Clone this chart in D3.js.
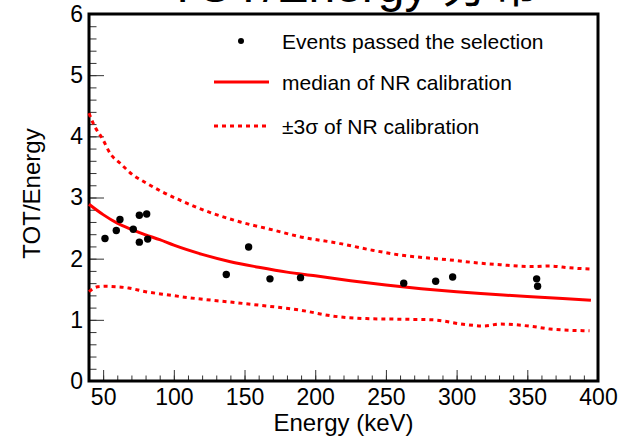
<!DOCTYPE html>
<html>
<head>
<meta charset="utf-8">
<script src="https://cdn.jsdelivr.net/npm/d3@7"></script>
<style>
  html, body { margin: 0; padding: 0; background: #fff; }
  svg { display: block; }
  text { font-family: "Liberation Sans", Arial, Helvetica, sans-serif; }
</style>
</head>
<body>
<svg id="chart" width="623" height="440"></svg>
<script>
// ---------- data ----------
const titleText = "TOT/Energy 分布";
const xTitle = "Energy (keV)";
const yTitle = "TOT/Energy";

const xMajorTicks = [50, 100, 150, 200, 250, 300, 350, 400];
const yMajorTicks = [0, 1, 2, 3, 4, 5, 6];

// events passing the selection
const pointsE = [51.3, 59.3, 61.9, 71.3, 75.6, 75.6, 80.8, 81.5, 137.1, 152.9, 168.0, 189.6, 262.6, 285.2, 297.2, 356.6, 357.3];
const pointsV = [2.33, 2.46, 2.64, 2.48, 2.27, 2.71, 2.73, 2.32, 1.74, 2.19, 1.67, 1.69, 1.60, 1.63, 1.70, 1.67, 1.55];

// median of NR calibration
const medianE = [40, 50, 60, 70, 80, 90, 100, 120, 140, 160, 180, 200, 225, 250, 275, 300, 325, 350, 375, 395];
const medianV = [2.89, 2.72, 2.58, 2.48, 2.39, 2.31, 2.22, 2.07, 1.95, 1.86, 1.78, 1.72, 1.64, 1.57, 1.51, 1.46, 1.42, 1.38, 1.35, 1.32];

// +3 sigma of NR calibration
const upperE = [40, 43, 50, 55, 62, 71, 81, 92, 104, 116, 130, 147, 170, 189, 217, 240, 260, 280, 295, 315, 331, 354, 366, 380, 394];
const upperV = [4.38, 4.21, 3.94, 3.72, 3.56, 3.37, 3.23, 3.09, 2.96, 2.84, 2.72, 2.60, 2.47, 2.36, 2.25, 2.14, 2.06, 2.01, 1.98, 1.93, 1.90, 1.87, 1.88, 1.85, 1.83];

// -3 sigma of NR calibration
const lowerE = [40, 46, 52, 60, 68, 80, 92, 115, 140, 160, 189, 213, 236, 260, 283, 307, 319, 331, 354, 366, 394];
const lowerV = [1.46, 1.54, 1.55, 1.54, 1.52, 1.46, 1.42, 1.35, 1.29, 1.24, 1.16, 1.06, 1.02, 1.01, 1.00, 0.92, 0.90, 0.93, 0.89, 0.85, 0.82];

const legendLabels = ["Events passed the selection", "median of NR calibration", "±3σ of NR calibration"];

// ---------- layout ----------
const svg = d3.select("#chart");
const L = 89, R = 598, T = 14, B = 381;
const x = d3.scaleLinear().domain([40, 400]).range([L, R]);
const y = d3.scaleLinear().domain([0, 6]).range([B, T]);

// title (mostly cut off at top)
svg.append("text")
  .attr("x", 168).attr("y", 2)
  .attr("font-size", 48)
  .style("font-family", "'Liberation Sans', 'Noto Sans CJK SC', sans-serif")
  .attr("fill", "#000")
  .text(titleText);

// minor ticks
const xMinor = d3.range(40, 401, 10);
const yMinor = d3.range(0, 6.001, 0.2).map(v => +v.toFixed(2));

svg.append("g").attr("transform", `translate(0,${B})`)
  .call(d3.axisBottom(x).tickValues(xMinor).tickSize(-5.5).tickFormat(""))
  .call(g => g.select(".domain").remove())
  .call(g => g.selectAll("line").attr("stroke", "#333"));

svg.append("g").attr("transform", `translate(${L},0)`)
  .call(d3.axisLeft(y).tickValues(yMinor).tickSize(-7.5).tickFormat(""))
  .call(g => g.select(".domain").remove())
  .call(g => g.selectAll("line").attr("stroke", "#333"));

// major ticks + labels
svg.append("g").attr("transform", `translate(0,${B})`)
  .call(d3.axisBottom(x).tickValues(xMajorTicks).tickSize(-11).tickPadding(8).tickFormat(d3.format("d")))
  .call(g => g.select(".domain").remove())
  .call(g => g.selectAll("line").attr("stroke", "#333"))
  .call(g => g.selectAll("text").attr("font-size", 23).attr("fill", "#000")
      .style("font-family", "'Liberation Sans', Arial, sans-serif"));

svg.append("g").attr("transform", `translate(${L},0)`)
  .call(d3.axisLeft(y).tickValues(yMajorTicks).tickSize(-15).tickPadding(6).tickFormat(d3.format("d")))
  .call(g => g.select(".domain").remove())
  .call(g => g.selectAll("line").attr("stroke", "#333"))
  .call(g => g.selectAll("text").attr("font-size", 23).attr("fill", "#000")
      .style("font-family", "'Liberation Sans', Arial, sans-serif"));

// frame
svg.append("rect")
  .attr("x", L).attr("y", T).attr("width", R - L).attr("height", B - T)
  .attr("fill", "none").attr("stroke", "#000").attr("stroke-width", 3);

// axis titles
svg.append("text")
  .attr("x", (L + R) / 2).attr("y", 431)
  .attr("text-anchor", "middle").attr("font-size", 24).attr("fill", "#000")
  .text(xTitle);

svg.append("text")
  .attr("transform", `translate(40,${(T + B) / 2 - 4}) rotate(-90)`)
  .attr("text-anchor", "middle").attr("font-size", 24).attr("fill", "#000")
  .text(yTitle);

// curves
const line = d3.line().x(d => x(d[0])).y(d => y(d[1])).curve(d3.curveMonotoneX);
const zip = (a, b) => a.map((v, i) => [v, b[i]]);

const plot = svg.append("g");
plot.append("path").datum(zip(upperE, upperV))
  .attr("d", line).attr("fill", "none").attr("stroke", "#ff0000")
  .attr("stroke-width", 3).attr("stroke-dasharray", "4,4");
plot.append("path").datum(zip(lowerE, lowerV))
  .attr("d", line).attr("fill", "none").attr("stroke", "#ff0000")
  .attr("stroke-width", 3).attr("stroke-dasharray", "4,4");
plot.append("path").datum(zip(medianE, medianV))
  .attr("d", line).attr("fill", "none").attr("stroke", "#ff0000")
  .attr("stroke-width", 3);

// points
plot.selectAll("circle.pt").data(zip(pointsE, pointsV)).join("circle")
  .attr("class", "pt")
  .attr("cx", d => x(d[0])).attr("cy", d => y(d[1])).attr("r", 3.7)
  .attr("fill", "#000");

// legend
const leg = svg.append("g");
const rowsY = [41, 82, 126];
leg.append("circle").attr("cx", 241).attr("cy", rowsY[0]).attr("r", 3).attr("fill", "#000");
leg.append("line").attr("x1", 214).attr("x2", 269).attr("y1", rowsY[1]).attr("y2", rowsY[1])
  .attr("stroke", "#ff0000").attr("stroke-width", 3);
leg.append("line").attr("x1", 214).attr("x2", 270).attr("y1", rowsY[2]).attr("y2", rowsY[2])
  .attr("stroke", "#ff0000").attr("stroke-width", 3).attr("stroke-dasharray", "4,4");
leg.selectAll("text.lg").data(legendLabels).join("text")
  .attr("class", "lg")
  .attr("x", 282).attr("y", (d, i) => rowsY[i] + 7.5)
  .attr("font-size", 21).attr("fill", "#000")
  .text(d => d);
</script>
</body>
</html>
